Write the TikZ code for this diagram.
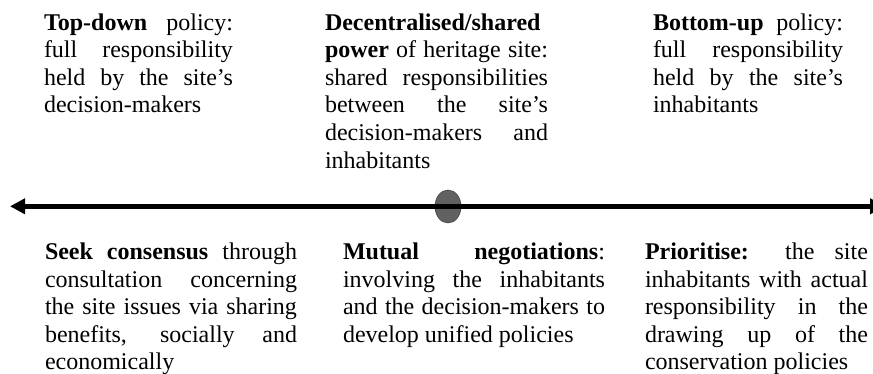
\documentclass[tikz,border=0pt]{standalone}
\usepackage{fontspec}
\setmainfont{Liberation Serif}
\usetikzlibrary{arrows.meta,shapes.geometric}
\newcommand\mysetpar{\tolerance=10000\relax\hyphenpenalty=10000\relax\exhyphenpenalty=10000\relax\strut}
\tikzset{
  txt/.style={anchor=north west, inner sep=0pt, outer sep=0pt, align=justify,
    font=\fontsize{24}{27.6}\selectfont},
  axis/.style={line width=5pt, {Triangle[length=15pt,width=15pt]}-{Triangle[length=15pt,width=15pt]}},
  centre/.style={ellipse, minimum width=26pt, minimum height=33pt, inner sep=0pt,
    fill=black!62, draw=black!75, line width=0.6pt}
}
\begin{document}
\begin{tikzpicture}[x=1pt,y=-1pt]
\useasboundingbox (0,0) rectangle (873,374);
\clip (0,0) rectangle (873,374);
% top texts
\node[txt, text width=189pt] (tl) at (44,10.7) {\mysetpar\textbf{Top-down} policy:\linebreak full responsibility\linebreak held by the site’s\linebreak decision-makers};
\node[txt, text width=223pt] (tm) at (325,10.7) {\mysetpar\textbf{Decentralised/shared}\linebreak \textbf{power} of heritage site:\linebreak shared responsibilities\linebreak between the site’s\linebreak decision-makers and\linebreak inhabitants};
\node[txt, text width=190pt] (tr) at (653,10.7) {\mysetpar\textbf{Bottom-up} policy:\linebreak full responsibility\linebreak held by the site’s\linebreak inhabitants};
% axis
\node[centre] (mid) at (448,206.5) {};
\coordinate (left) at (10,206.3);
\coordinate (right) at (885,206.3);
\draw[axis] (left) -- (right);
% bottom texts
\node[txt, text width=252pt] (bl) at (45,240.2) {\mysetpar\textbf{Seek consensus} through\linebreak consultation concerning\linebreak the site issues via sharing\linebreak benefits, socially and\linebreak economically};
\node[txt, text width=262pt] (bm) at (343,240.2) {\mysetpar\textbf{Mutual negotiations}:\linebreak involving the inhabitants\linebreak and the decision-makers to\linebreak develop unified policies};
\node[txt, text width=223pt] (br) at (645,240.2) {\mysetpar\textbf{Prioritise:} the site\linebreak inhabitants with actual\linebreak responsibility in the\linebreak drawing up of the\linebreak conservation policies};
\end{tikzpicture}
\end{document}
